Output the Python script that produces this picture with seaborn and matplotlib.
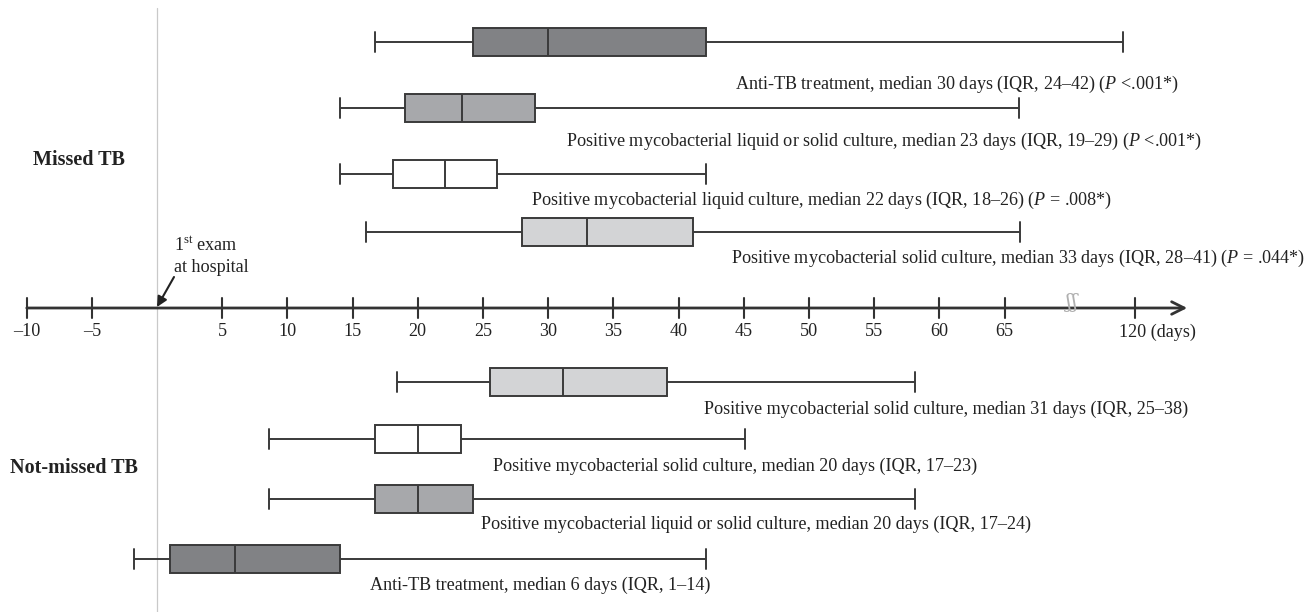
import numpy as np
import pandas as pd
import matplotlib
matplotlib.use("Agg")
import matplotlib.pyplot as plt
import seaborn as sns

# five-number summaries (days)
box_labels = [
    "Anti-TB treatment, median 30 days (IQR, 24\u201342) ($\\it{P}$ <.001*)",
    "Positive mycobacterial liquid or solid culture, median 23 days (IQR, 19\u201329) ($\\it{P}$ <.001*)",
    "Positive mycobacterial liquid culture, median 22 days (IQR, 18\u201326) ($\\it{P}$ = .008*)",
    "Positive mycobacterial solid culture, median 33 days (IQR, 28\u201341) ($\\it{P}$ = .044*)",
    "Positive mycobacterial solid culture, median 31 days (IQR, 25\u201338)",
    "Positive mycobacterial solid culture, median 20 days (IQR, 17\u201323)",
    "Positive mycobacterial liquid or solid culture, median 20 days (IQR, 17\u201324)",
    "Anti-TB treatment, median 6 days (IQR, 1\u201314)",
]
low = [16.7, 14.0, 14.0, 16.0, 18.4, 8.6, 8.6, -1.8]
q1 = [24.2, 19.0, 18.1, 28.0, 25.5, 16.7, 16.7, 1.0]
med = [30.0, 23.4, 22.1, 33.0, 31.1, 20.0, 20.0, 6.0]
q3 = [42.1, 29.0, 26.1, 41.1, 39.1, 23.3, 24.2, 14.0]
high = [111.0, 66.1, 42.1, 66.2, 58.1, 45.1, 58.1, 42.1]
fill = ["dark", "medium", "white", "light", "light", "white", "medium", "dark"]

ticks = [-10, -5, 5, 10, 15, 20, 25, 30, 35, 40, 45, 50, 55, 60, 65, 120]

fill_colors = {"dark": "#818285", "medium": "#a7a8ab", "light": "#d3d4d6", "white": "#ffffff"}
edge = "#3a3a3a"

# layout (figure pixels)
row_y = [42, 108, 174, 232, 382, 439, 499, 559]
label_xy = [(735, 84, "left"), (566, 141, "left"), (531, 200, "left"), (1305, 258, "right"),
            (704, 409, "left"), (493, 466, "left"), (481, 524, "left"), (370, 585, "left")]
axis_y = 308
px0, px_per_day = 157, 13.04
fs = 13.1


def disp(v):
    # broken axis: after 70 days the scale is squeezed so 120 sits at 75
    return v if v <= 70 else 70 + (v - 70) * 0.1


def to_x(px):
    return (px - px0) / px_per_day


rows = []
for i in range(len(low)):
    for v in (low[i], q1[i], med[i], q3[i], high[i]):
        rows.append({"box": f"b{i}", "day": disp(v), "row": row_y[i]})
df = pd.DataFrame(rows)
palette = {f"b{i}": fill_colors[f] for i, f in enumerate(fill)}

sns.set_style("white")
plt.rcParams["font.family"] = ["Liberation Serif", "DejaVu Serif"]
plt.rcParams["mathtext.fontset"] = "custom"
plt.rcParams["mathtext.rm"] = "Liberation Serif"
plt.rcParams["mathtext.it"] = "Liberation Serif:italic"
plt.rcParams["mathtext.bf"] = "Liberation Serif:bold"

fig = plt.figure(figsize=(13.09, 6.12), dpi=100)
ax = fig.add_axes([0, 0, 1, 1])

sns.boxplot(data=df, x="day", y="row", hue="box", palette=palette, orient="h",
            native_scale=True, dodge=False, whis=np.inf, width=28 / 57,
            saturation=1, linecolor=edge, linewidth=1.4, legend=False,
            capwidths=20, ax=ax)

ax.set_xlim(to_x(0), to_x(1309))
ax.set_ylim(612, 0)
ax.set_axis_off()

# day-0 reference line
ax.plot([0, 0], [8, 612], color="#c9c9c9", lw=0.9, zorder=0)

# number line with arrow
ax.annotate("", xy=(to_x(1190), axis_y), xytext=(to_x(24), axis_y),
            arrowprops=dict(arrowstyle="->,head_length=0.9,head_width=0.45",
                            color="#333333", lw=2))
for t in ticks:
    x = disp(t)
    ax.plot([x, x], [298, 318], color="#333333", lw=1.5)
    if t == 120:
        ax.text(x - 16 / px_per_day, 332, "120 (days)", ha="left", va="center",
                fontsize=fs, color="#222222")
    else:
        lab = "\u2013" + str(-t) if t < 0 else str(t)
        ax.text(x, 332, lab, ha="center", va="center", fontsize=fs, color="#222222")
ax.text(to_x(1072), axis_y - 6, "\u0283\u0283", ha="center", va="center",
        fontsize=15, color="#b0b0b0", family=["DejaVu Serif"])

# first exam marker
ax.annotate("", xy=(0.0, axis_y - 1), xytext=(to_x(174), 277),
            arrowprops=dict(arrowstyle="-|>,head_length=0.6,head_width=0.3",
                            color="#222222", lw=1.5, shrinkA=0, shrinkB=0))
ax.text(to_x(174), 245, "1$^{\\rm st}$ exam", ha="left", va="center", fontsize=fs, color="#222222")
ax.text(to_x(174), 268, "at hospital", ha="left", va="center", fontsize=fs, color="#222222")

for (lx, ly, ha), txt in zip(label_xy, box_labels):
    ax.text(to_x(lx), ly, txt, ha=ha, va="center", fontsize=fs, color="#222222")

ax.text(to_x(33), 160, "Missed TB", ha="left", va="center", fontsize=14.5,
        fontweight="bold", color="#222222")
ax.text(to_x(10), 468, "Not-missed TB", ha="left", va="center", fontsize=14.5,
        fontweight="bold", color="#222222")

fig.savefig("out.png", dpi=100)
